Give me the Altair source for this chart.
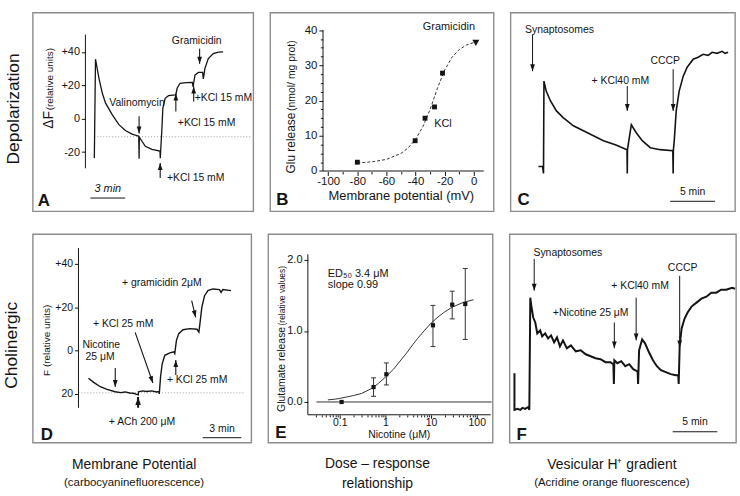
import altair as alt
import pandas as pd

FONT = "Liberation Sans"
INK = "#141414"
FRAME = "#8c8c8c"
HEAD = "M-0.75,-2.2L0.75,-2.2L0,0Z"  # arrowhead with its tip on the anchor

# ---------------- A: depolarization, carbocyanine fluorescence ----------------
a_time = [0.00, 0.10, 0.40, 0.69, 0.97, 1.54, 2.12, 2.68, 3.25, 3.83, 3.86, 3.88,
          4.11, 4.40, 4.97, 5.66, 5.69, 5.72, 5.83, 5.91, 6.11, 6.40, 6.97, 7.03,
          7.14, 7.39, 7.90, 8.45, 8.52, 8.57, 8.68, 8.97, 9.34, 9.40, 9.54, 9.83,
          10.26, 10.70, 11.11]
a_signal = [-23.5, 35.6, 24.1, 15.2, 9.3, 2.4, -3.6, -7.1, -9.2, -10.5, -24.0, -11.0,
            -13.5, -16.5, -18.4, -19.4, -23.6, -19.5, -5.6, 6.3, 12.2, 13.8, 14.3, 14.4,
            18.2, 21.2, 21.6, 21.7, 19.0, 21.5, 26.1, 27.7, 27.7, 23.8, 30.1, 36.0,
            39.0, 39.8, 40.0]
a_rest_level = -10.8
a_rest_span = [0.0, 13.54]
a_axis_at = -0.77
a_axis_span = [-29.7, 50.3]
a_ticks = [-20, 0, 20, 40]
a_arrow_t = [3.86, 5.68, 7.03, 8.57, 9.08]
a_arrow_from = [1.5, -35.5, 4.3, 10.3, 41.8]
a_arrow_to = [-8.8, -26.6, 15.0, 19.2, 32.9]
a_arrow_angle = [0, 180, 180, 180, 0]
a_names = ["Valinomycin", "Gramicidin"]
a_names_t = [3.68, 8.83]
a_names_v = [9.6, 46.5]
a_kcl = ["+KCl 15 mM", "+KCl 15 mM", "+KCl 15 mM"]
a_kcl_t = [6.26, 7.20, 8.65]
a_kcl_v = [-35.5, -2.8, 12.1]
a_bar = [-0.34, 2.66]
a_bar_level = -47.5

# ---------------- B: glutamate release vs membrane potential ----------------
b_potential = [-80.0, -40.3, -33.5, -27.0, -21.5]
b_release = [2.5, 8.6, 15.0, 18.2, 27.8]
b_gram_potential = [1.4]
b_gram_release = [36.4]
b_fit_potential = [-80, -70, -60, -50, -45, -40, -35, -30, -25, -20, -15, -10, -5, 0]
b_fit_release = [2.3, 2.6, 3.3, 5.0, 6.6, 9.0, 12.6, 17.5, 23.5, 28.7, 32.3, 34.5, 35.8, 36.5]
b_x_ticks = [-100, -90, -80, -70, -60, -50, -40, -30, -20, -10, 0]
b_y_ticks = [0, 2.5, 5, 7.5, 10, 12.5, 15, 17.5, 20, 22.5, 25, 27.5, 30, 32.5, 35, 37.5, 40]
b_axis_x = -103.6
b_axis_right = 6.8
b_axis_top = 40
b_notes = ["Gramicidin", "KCl"]
b_notes_x = [-17.1, -21.2]
b_notes_y = [40.9, 13.3]

# ---------------- C: acridine orange, depolarization ----------------
c_time = [-0.56, -0.10, 0.00, 0.05, 0.30, 0.78, 1.44, 2.22, 3.33, 4.44, 5.56,
          6.67, 8.00, 9.30, 9.33, 9.35, 9.78, 10.33, 11.00, 11.89, 13.00,
          14.40, 14.44, 14.46, 14.56, 14.78, 15.11, 15.56, 16.00, 16.67, 17.22,
          17.78, 18.33, 18.78, 19.33, 19.89, 20.22, 20.56]
c_signal = [22.5, 22.5, 19.0, 65.5, 60.5, 55.5, 50.5, 47.0, 43.0, 40.5, 38.0,
            35.5, 33.5, 31.0, 19.0, 31.0, 43.5, 39.5, 35.5, 32.0, 31.0,
            30.5, 19.0, 30.5, 35.5, 50.5, 60.5, 68.0, 72.5, 76.5, 77.5,
            79.0, 78.5, 80.0, 79.5, 80.5, 79.5, 80.0]
c_arrow_t = [-1.22, 9.33, 14.44]
c_arrow_from = [89.0, 63.0, 71.5]
c_arrow_to = [70.5, 50.5, 50.5]
c_names = ["Synaptosomes", "+ KCl40 mM", "CCCP"]
c_names_t = [1.78, 8.56, 13.56]
c_names_v = [91.0, 65.5, 75.5]
c_bar = [14.11, 19.11]
c_bar_level = 5.0

# ---------------- D: cholinergic, carbocyanine fluorescence ----------------
d_time = [0.00, 0.41, 0.92, 1.44, 2.08, 2.50, 2.85, 3.20, 3.49, 3.74,
          3.86, 3.88, 4.20, 4.51, 4.90, 5.28, 5.45, 5.49, 5.59, 5.72,
          5.92, 6.31, 6.62, 6.69, 6.82, 7.00, 7.33, 7.85, 8.41, 8.56,
          8.67, 8.79, 9.00, 9.26, 9.64, 10.15, 10.28, 10.41, 11.05]
d_signal = [-12.8, -14.7, -16.7, -17.9, -19.0, -19.4, -19.1, -19.6, -19.7, -20.2,
            -20.4, -19.0, -18.6, -18.9, -18.6, -19.1, -18.9, -20.0, -12.1, -6.0,
            -2.2, -1.1, -0.6, -1.4, 4.7, 7.8, 9.6, 10.1, 9.8, 8.5,
            13.9, 20.0, 25.3, 27.6, 28.4, 28.1, 26.8, 28.1, 27.6]
d_rest_level = -19.5
d_rest_span = [-0.77, 12.08]
d_axis_at = -0.77
d_axis_span = [-26.4, 47.3]
d_ticks = [-20, 0, 20, 40]
d_arrow_t = [2.08, 3.62, 6.77, 8.00]
d_arrow_from = [-8.1, 8.4, -11.3, 23.0]
d_arrow_t2 = [2.08, 5.00, 6.77, 8.31]
d_arrow_to = [-16.8, -15.0, -4.4, 15.3]
d_arrow_angle = [0, 340.6, 180, 346.8]
d_ach = [3.85, -26.4, -21.4]
d_center_names = ["+ gramicidin 2\u03bcM", "+ KCl 25 mM", "+ ACh 200 \u03bcM"]
d_center_t = [5.69, 2.69, 4.15]
d_center_v = [31.3, 12.0, -32.8]
d_left_names = ["Nicotine", "25 \u03bcM", "+ KCl 25 mM"]
d_left_t = [-0.46, -0.23, 6.08]
d_left_v = [2.4, -3.1, -13.6]
d_bar = [8.85, 11.85]
d_bar_level = -40.2

# ---------------- E: nicotine dose-response ----------------
e_nicotine = [0.11, 0.55, 1.05, 11.0, 29.0, 56.0]
e_release = [0.00, 0.21, 0.39, 1.08, 1.37, 1.38]
e_err_x = [0.55, 1.05, 11.0, 29.0, 56.0]
e_err_low = [0.08, 0.24, 0.78, 1.17, 0.88]
e_err_high = [0.34, 0.55, 1.36, 1.56, 1.88]
e_fit_x = [0.055, 0.08, 0.1, 0.2, 0.3, 0.5, 0.7, 1, 1.5, 2, 3, 4, 5, 7, 10, 15, 20, 30, 50, 85]
e_fit_y = [0.03, 0.04, 0.05, 0.09, 0.12, 0.19, 0.26, 0.35, 0.46, 0.56, 0.70, 0.81, 0.89,
           1.00, 1.11, 1.21, 1.27, 1.34, 1.40, 1.44]
e_x_ticks = [0.03, 0.04, 0.05, 0.06, 0.07, 0.08, 0.09, 0.1, 0.2, 0.3, 0.4, 0.5, 0.6, 0.7,
             0.8, 0.9, 1, 2, 3, 4, 5, 6, 7, 8, 9, 10, 20, 30, 40, 50, 60, 70, 80, 90, 100]
e_y_ticks = [0, 1, 2]
e_axis_x = 0.0201
e_axis_y = -0.18
e_axis_right = 201
e_axis_top = 2.08
e_zero_span = [0.031, 212]
e_fit_notes = ["ED\u2085\u2080 3.4 \u03bcM", "slope 0.99"]
e_fit_notes_y = [1.80, 1.64]

# ---------------- F: acridine orange, nicotine ----------------
f_time = [-1.78, -1.78, -1.44, -1.11, -0.89, -0.56, -0.22, -0.11,
          0.00, 0.11, 0.33, 0.56, 0.78, 1.11, 1.33, 1.67, 2.00, 2.33,
          2.67, 3.00, 3.33, 3.67, 4.11, 4.56, 5.11, 5.67, 6.22, 6.78,
          7.33, 7.89, 8.44, 9.00, 9.33, 9.39, 9.44, 9.78, 10.22, 10.67,
          11.11, 11.56, 12.00, 12.06, 12.11, 12.22, 12.56, 12.89, 13.33, 13.78,
          14.22, 14.67, 15.22, 15.78, 16.33, 16.62, 16.67, 16.78, 17.00, 17.33,
          17.67, 18.11, 18.67, 19.22, 19.78, 20.33, 20.89, 21.44, 22.00, 22.67,
          23.00]
f_signal = [34, 15.5, 16, 15.5, 16.5, 16, 17, 15.5,
            72, 68, 62, 59.5, 54, 55.5, 52.5, 54, 51.5, 53,
            49.5, 52, 47.5, 50.5, 46.5, 48, 45, 45.5, 43.5, 42.5,
            41.5, 41, 39.5, 39.5, 38.5, 28.5, 40.5, 39, 40, 37.5,
            38.5, 36, 35, 34.5, 28.5, 45.5, 51, 49, 44.5, 40.5,
            37.5, 35.5, 34.5, 33.5, 33, 33, 28.5, 48, 56.5, 61.5,
            64.5, 67.5, 69.5, 71.5, 72.5, 74.5, 74.5, 76, 76, 77,
            76.5]
f_arrow_t = [0.44, 9.44, 11.89, 16.78]
f_arrow_from = [91.5, 59.5, 72.0, 83.0]
f_arrow_to = [75.5, 46.5, 50.5, 47.0]
f_names = ["Synaptosomes", "+Nicotine 25 \u03bcM", "+ KCl40 mM", "CCCP"]
f_names_t = [4.22, 6.78, 12.33, 17.11]
f_names_v = [94.5, 64.5, 78.0, 87.0]
f_bar = [16.0, 21.0]
f_bar_level = 4.5


def frame_text(s, x, y, size=11, **kw):
    """Text placed in the panel's own pixel frame (labels, titles)."""
    return alt.Chart(pd.DataFrame({"s": [s]})).mark_text(
        font=FONT, color=INK, fontSize=size, **kw
    ).encode(x=alt.value(x), y=alt.value(y), text="s:N")


def data_text(names, xs, ys, X, Y, size=11, **kw):
    df = pd.DataFrame({"s": names, "t": xs, "v": ys})
    return alt.Chart(df).mark_text(font=FONT, color=INK, fontSize=size, **kw).encode(
        x=X("t"), y=Y("v"), text="s:N")


def arrows(t, v_from, t_to, v_to, angle, X, Y, width=1.1, size=40):
    df = pd.DataFrame({"t": t, "v": v_from, "t2": t_to, "v2": v_to, "ang": angle})
    shaft = alt.Chart(df).mark_rule(color=INK, strokeWidth=width).encode(
        x=X("t"), y=Y("v"), x2="t2", y2="v2")
    head = alt.Chart(df).mark_point(shape=HEAD, filled=True, color=INK, opacity=1,
                                    strokeWidth=0, size=size).encode(
        x=X("t2"), y=Y("v2"), angle=alt.Angle("ang:Q", scale=None))
    return [shaft, head]


def trace(times, values, X, Y, width):
    df = pd.DataFrame({"t": times, "v": values, "i": range(len(times))})
    return alt.Chart(df).mark_line(color=INK, strokeWidth=width).encode(
        x=X("t"), y=Y("v"), order="i:Q")


def hline(t0, t1, level, X, Y, **kw):
    df = pd.DataFrame({"t": [t0], "t2": [t1], "v": [level]})
    return alt.Chart(df).mark_rule(**kw).encode(x=X("t"), x2="t2", y=Y("v"))


def vline(at, v0, v1, X, Y, **kw):
    df = pd.DataFrame({"t": [at], "v": [v0], "v2": [v1]})
    return alt.Chart(df).mark_rule(**kw).encode(x=X("t"), y=Y("v"), y2="v2")


def letter(s, x, y):
    return frame_text(s, x, y, size=17, fontWeight="bold", align="left", baseline="alphabetic")


def lin(lo, hi):
    return alt.Scale(domain=[lo, hi], nice=False, zero=False)


def axis(**kw):
    base = dict(domain=False, grid=False, title=None, tickColor=INK, tickWidth=1,
                labelColor=INK, labelFont=FONT, labelPadding=2)
    base.update(kw)
    return alt.Axis(**base)


SIGNED = "datum.value > 0 ? '+' + datum.value : (datum.value < 0 ? '-' + abs(datum.value) : '0')"

# ---- panel A ----
AXS, AYS = lin(-5.31, 13.71), lin(-55.4, 63.5)
A_YAX = axis(values=a_ticks, labelExpr=SIGNED, offset=-53, tickSize=4, labelFontSize=11)
AX = lambda f: alt.X(f + ":Q", scale=AXS, axis=None)
AY = lambda f: alt.Y(f + ":Q", scale=AYS, axis=A_YAX)
panel_a = alt.layer(
    hline(a_rest_span[0], a_rest_span[1], a_rest_level, AX, AY,
          color="#a0a0a0", strokeWidth=1, strokeDash=[1, 2]),
    vline(a_axis_at, a_axis_span[0], a_axis_span[1], AX, AY, color=INK, strokeWidth=1),
    trace(a_time, a_signal, AX, AY, 1.3),
    *arrows(a_arrow_t, a_arrow_from, a_arrow_t, a_arrow_to, a_arrow_angle, AX, AY),
    data_text(a_names, a_names_t, a_names_v, AX, AY, size=10.5),
    data_text(a_kcl, a_kcl_t, a_kcl_v, AX, AY, size=10.5, align="left"),
    hline(a_bar[0], a_bar[1], a_bar_level, AX, AY, color=INK, strokeWidth=1),
    data_text(["3 min"], [sum(a_bar) / 2], [a_bar_level + 5.5], AX, AY, size=11,
              fontStyle="italic"),
    frame_text("\u0394F", 16, 108, size=14, angle=270),
    frame_text("(relative units)", 17, 67, size=10, angle=270),
    frame_text("Depolarization", -19, 97, size=17.5, angle=270),
    letter("A", 5, 195),
).properties(width=222, height=200)

# ---- panel B ----
BXS, BYS = lin(-139.9, 13.65), lin(-11.43, 45.0)
B_XAX = axis(values=b_x_ticks, offset=-40, labelFontSize=11.5, labelPadding=0,
             labelExpr="datum.value % 20 == 0 ? (datum.value < 0 ? '-' + abs(datum.value) : '' + datum.value) : ''",
             tickSize={"condition": {"test": "datum.value % 20 == 0", "value": 4}, "value": 2.5})
B_YAX = axis(values=b_y_ticks, offset=-53, labelFontSize=11.5,
             labelExpr="datum.value % 10 == 0 ? '' + datum.value : ''",
             tickSize={"condition": {"test": "datum.value % 10 == 0", "value": 4}, "value": 2.5})
BX = lambda f: alt.X(f + ":Q", scale=BXS, axis=B_XAX)
BY = lambda f: alt.Y(f + ":Q", scale=BYS, axis=B_YAX)
b_fit = pd.DataFrame({"t": b_fit_potential, "v": b_fit_release})
b_pts = pd.DataFrame({"t": b_potential, "v": b_release})
b_gram = pd.DataFrame({"t": b_gram_potential, "v": b_gram_release})
panel_b = alt.layer(
    vline(b_axis_x, 0, b_axis_top, BX, BY, color=INK, strokeWidth=1),
    hline(b_axis_x, b_axis_right, 0, BX, BY, color=INK, strokeWidth=1),
    alt.Chart(b_fit).mark_line(color="#333333", strokeWidth=1, strokeDash=[3, 2]).encode(
        x=BX("t"), y=BY("v")),
    alt.Chart(b_pts).mark_point(shape="square", filled=True, color=INK, opacity=1,
                                size=24).encode(x=BX("t"), y=BY("v")),
    alt.Chart(b_gram).mark_point(shape="triangle-down", filled=True, color=INK, opacity=1,
                                 size=50).encode(x=BX("t"), y=BY("v")),
    data_text(b_notes, b_notes_x, b_notes_y, BX, BY, size=11),
    frame_text("Glu release", 25, 162, size=12, angle=270, align="left", baseline="alphabetic"),
    frame_text("(nmol/ mg prot)", 25, 99, size=10.5, angle=270, align="left", baseline="alphabetic"),
    frame_text("Membrane potential (mV)", 132, 185, size=13),
    letter("B", 6, 194),
).properties(width=225, height=200)

# ---- panel C ----
CXS, CYS = lin(-3.67, 21.33), lin(0, 100)
CX = lambda f: alt.X(f + ":Q", scale=CXS, axis=None)
CY = lambda f: alt.Y(f + ":Q", scale=CYS, axis=None)
panel_c = alt.layer(
    trace(c_time, c_signal, CX, CY, 1.6),
    *arrows(c_arrow_t, c_arrow_from, c_arrow_t, c_arrow_to, [0, 0, 0], CX, CY, width=1),
    data_text(c_names, c_names_t, c_names_v, CX, CY, size=10.5),
    hline(c_bar[0], c_bar[1], c_bar_level, CX, CY, color=INK, strokeWidth=1),
    data_text(["5 min"], [sum(c_bar) / 2], [c_bar_level + 4.5], CX, CY, size=10.5),
    letter("C", 7, 194),
).properties(width=226, height=200)

# ---- panel D ----
DXS, DYS = lin(-4.31, 12.62), lin(-42.5, 53.7)
D_YAX = axis(values=d_ticks, offset=-46, tickSize=4, labelFontSize=10.5,
             labelExpr="datum.value > 0 ? '+' + datum.value : '' + abs(datum.value)")
DX = lambda f: alt.X(f + ":Q", scale=DXS, axis=None)
DY = lambda f: alt.Y(f + ":Q", scale=DYS, axis=D_YAX)
panel_d = alt.layer(
    hline(d_rest_span[0], d_rest_span[1], d_rest_level, DX, DY,
          color="#a0a0a0", strokeWidth=1, strokeDash=[1, 2]),
    vline(d_axis_at, d_axis_span[0], d_axis_span[1], DX, DY, color=INK, strokeWidth=1),
    trace(d_time, d_signal, DX, DY, 1.4),
    *arrows(d_arrow_t, d_arrow_from, d_arrow_t2, d_arrow_to, d_arrow_angle, DX, DY),
    *arrows([d_ach[0]], [d_ach[1]], [d_ach[0]], [d_ach[2]], [180], DX, DY, width=2, size=55),
    data_text(d_center_names, d_center_t, d_center_v, DX, DY, size=10.5),
    data_text(d_left_names, d_left_t, d_left_v, DX, DY, size=10.5, align="left"),
    hline(d_bar[0], d_bar[1], d_bar_level, DX, DY, color=INK, strokeWidth=1),
    data_text(["3 min"], [sum(d_bar) / 2], [d_bar_level + 4.2], DX, DY, size=10.5),
    frame_text("F (relative units)", 14, 107, size=10, angle=270),
    frame_text("Cholinergic", -21, 112, size=17.5, angle=270),
    letter("D", 8, 207),
    frame_text("Membrane Potential", 102, 233, size=14),
    frame_text("(carbocyaninefluorescence)", 102, 251, size=11.5),
).properties(width=220, height=210)

# ---- panel E ----
EXS = alt.Scale(type="log", domain=[0.00272, 222.8], nice=False)
EYS = lin(-0.573, 2.364)
E_XAX = axis(values=e_x_ticks, offset=-28, labelFontSize=10.5, labelPadding=-1,
             labelExpr="datum.value == 0.1 ? '0.1' : (datum.value == 1 ? '1' : (datum.value == 10 ? '10' : (datum.value == 100 ? '100' : '')))",
             tickSize={"condition": {"test": "indexof([0.1, 1, 10, 100], datum.value) >= 0",
                                     "value": 3.5}, "value": 2})
E_YAX = axis(values=e_y_ticks, offset=-40, tickSize=4, labelFontSize=11, format=".1f")
EX = lambda f: alt.X(f + ":Q", scale=EXS, axis=E_XAX)
EY = lambda f: alt.Y(f + ":Q", scale=EYS, axis=E_YAX)
e_pts = pd.DataFrame({"t": e_nicotine, "v": e_release})
e_err = pd.DataFrame({"t": e_err_x, "v": e_err_low, "v2": e_err_high})
e_fit = pd.DataFrame({"t": e_fit_x, "v": e_fit_y})
panel_e = alt.layer(
    vline(e_axis_x, e_axis_y, e_axis_top, EX, EY, color=INK, strokeWidth=1),
    hline(e_axis_x, e_axis_right, e_axis_y, EX, EY, color=INK, strokeWidth=1),
    hline(e_zero_span[0], e_zero_span[1], 0, EX, EY, color="#333333", strokeWidth=1),
    alt.Chart(e_fit).mark_line(color="#333333", strokeWidth=1).encode(x=EX("t"), y=EY("v")),
    alt.Chart(e_err).mark_rule(color="#333333", strokeWidth=1).encode(
        x=EX("t"), y=EY("v"), y2="v2"),
    alt.Chart(e_err).mark_point(shape="stroke", color="#333333", strokeWidth=1, size=25,
                                opacity=1).encode(x=EX("t"), y=EY("v")),
    alt.Chart(e_err).mark_point(shape="stroke", color="#333333", strokeWidth=1, size=25,
                                opacity=1).encode(x=EX("t"), y=EY("v2")),
    alt.Chart(e_pts).mark_point(shape="square", filled=True, color=INK, opacity=1,
                                size=18).encode(x=EX("t"), y=EY("v")),
    data_text(e_fit_notes, [0.055, 0.055], e_fit_notes_y, EX, EY, size=11, align="left"),
    frame_text("Glutamate release", 17, 179, size=10.5, angle=270, align="left", baseline="alphabetic"),
    frame_text("(relative values)", 17, 92, size=8.5, angle=270, align="left", baseline="alphabetic"),
    frame_text("Nicotine (\u03bcM)", 132, 202, size=10.5),
    letter("E", 7, 205),
    frame_text("Dose \u2013 response", 110, 231, size=14),
    frame_text("relationship", 110, 252, size=14),
).properties(width=226, height=210)

# ---- panel F ----
FXS, FYS = lin(-2.33, 23.11), lin(-1, 104)
FX = lambda f: alt.X(f + ":Q", scale=FXS, axis=None)
FY = lambda f: alt.Y(f + ":Q", scale=FYS, axis=None)
panel_f = alt.layer(
    trace(f_time, f_signal, FX, FY, 2.0),
    *arrows(f_arrow_t, f_arrow_from, f_arrow_t, f_arrow_to, [0, 0, 0, 0], FX, FY, width=1),
    data_text(f_names, f_names_t, f_names_v, FX, FY, size=10.5),
    hline(f_bar[0], f_bar[1], f_bar_level, FX, FY, color=INK, strokeWidth=1),
    data_text(["5 min"], [sum(f_bar) / 2], [f_bar_level + 5], FX, FY, size=10.5),
    letter("F", 7, 207),
    frame_text("Vesicular H\u207a gradient", 103, 233, size=14),
    frame_text("(Acridine orange fluorescence)", 103, 251, size=11.5),
).properties(width=228, height=210)

row1 = alt.hconcat(panel_a, panel_b, panel_c, spacing=15)
row2 = alt.hconcat(panel_d, panel_e, panel_f, spacing=15)
chart = alt.vconcat(row1, row2, spacing=21).properties(
    padding={"left": 2, "top": 10, "right": 0, "bottom": 0}
).configure_view(stroke=FRAME, strokeWidth=1.4)

chart.save("out.html", embed_options={"renderer": "svg", "actions": False})
